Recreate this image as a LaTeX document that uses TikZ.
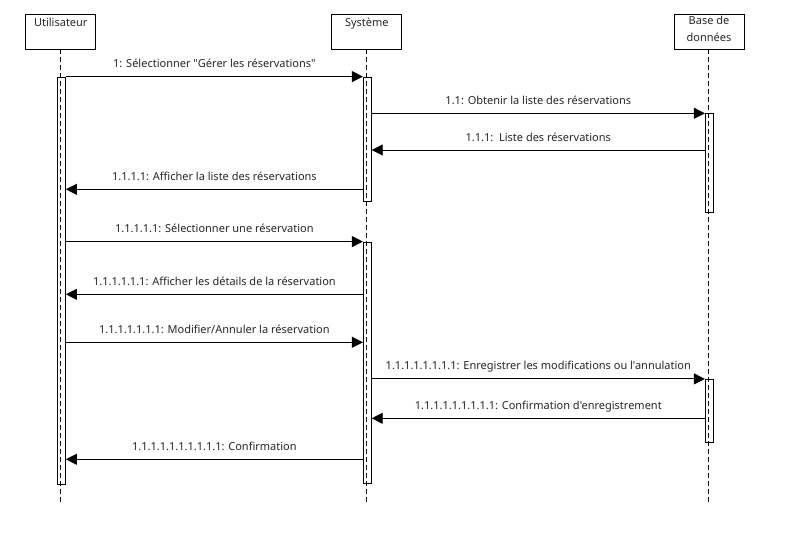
\documentclass[tikz,border=0pt]{standalone}
\usepackage{fontspec}
\setmainfont{Noto Sans}[Ligatures=TeXOff]
\usetikzlibrary{arrows.meta}
\begin{document}
\begin{tikzpicture}[x=1pt,y=-1pt,
  every node/.style={font=\fontsize{11}{13}\selectfont, text=black!85},
  head/.style={draw, line width=0.8pt, minimum width=70pt, minimum height=35pt, inner sep=0pt},
  headtxt/.style={anchor=north, inner sep=0pt, align=center, font=\fontsize{11}{17}\selectfont},
  life/.style={line width=0.8pt, dash pattern=on 5pt off 3pt},
  act/.style={draw, line width=0.8pt, minimum width=8pt, inner sep=0pt},
  msg/.style={line width=0.9pt, -{Triangle[length=11pt,width=11pt]}},
  lbl/.style={anchor=base, inner sep=0pt}]
\useasboundingbox (0,0) rectangle (785,538);
% heads
\node[head] (u) at (60.8,31.5) {};
\node[head] (s) at (366.8,31.5) {};
\node[head] (d) at (709,31.5) {};
\node[headtxt] (ut) at ([yshift=-4pt]u.north) {Utilisateur};
\node[headtxt] (st) at ([yshift=-4pt]s.north) {Système};
\node[headtxt] (dt) at ([yshift=-2pt]d.north) {Base de\\données};
% lifeline ends
\coordinate (ue) at (60.5,504);
\coordinate (se) at (366.6,504);
\coordinate (de) at (708.7,504);
% activations
\node[act, minimum height=407.5pt] (ua) at (61.5,280.75) {};
\node[act, minimum height=124pt] (sa1) at (367.3,139) {};
\node[act, minimum height=241pt] (sa2) at (367.3,362.5) {};
\node[act, minimum height=99pt] (da1) at (709.3,163.2) {};
\node[act, minimum height=63pt] (da2) at (709.3,410.8) {};
% lifelines
\draw[life] (u.south -| ue) -- (ue);
\draw[life] (s.south -| se) -- (se);
\draw[life] (d.south -| de) -- (de);
% messages
\draw[msg] (ua.east |- sa1.north) -- (sa1.north west)
  node[lbl, midway, yshift=9pt] (m1) {1: Sélectionner "Gérer les réservations"};
\draw[msg] (sa1.east |- da1.north) -- (da1.north west)
  node[lbl, midway, yshift=9pt] (m2) {1.1: Obtenir la liste des réservations};
\draw[msg] (da1.west |- 0,150) -- (sa1.east |- 0,150)
  node[lbl, midway, yshift=9pt] (m3) {1.1.1:\ \ Liste des réservations};
\draw[msg] (sa1.west |- 0,189.3) -- (ua.east |- 0,189.3)
  node[lbl, midway, yshift=9pt] (m4) {1.1.1.1: Afficher la liste des réservations};
\draw[msg] (ua.east |- sa2.north) -- (sa2.north west)
  node[lbl, midway, yshift=9pt] (m5) {1.1.1.1.1: Sélectionner une réservation};
\draw[msg] (sa2.west |- 0,294.3) -- (ua.east |- 0,294.3)
  node[lbl, midway, yshift=9pt] (m6) {1.1.1.1.1.1: Afficher les détails de la réservation};
\draw[msg] (ua.east |- 0,342.3) -- (sa2.west |- 0,342.3)
  node[lbl, midway, yshift=9pt] (m7) {1.1.1.1.1.1.1: Modifier/Annuler la réservation};
\draw[msg] (sa2.east |- da2.north) -- (da2.north west)
  node[lbl, midway, yshift=9pt] (m8) {1.1.1.1.1.1.1.1: Enregistrer les modifications ou l'annulation};
\draw[msg] (da2.west |- 0,418.3) -- (sa2.east |- 0,418.3)
  node[lbl, midway, yshift=9pt] (m9) {1.1.1.1.1.1.1.1.1: Confirmation d'enregistrement};
\draw[msg] (sa2.west |- 0,459.3) -- (ua.east |- 0,459.3)
  node[lbl, midway, yshift=9pt] (m10) {1.1.1.1.1.1.1.1.1.1: Confirmation};
\end{tikzpicture}
\end{document}
